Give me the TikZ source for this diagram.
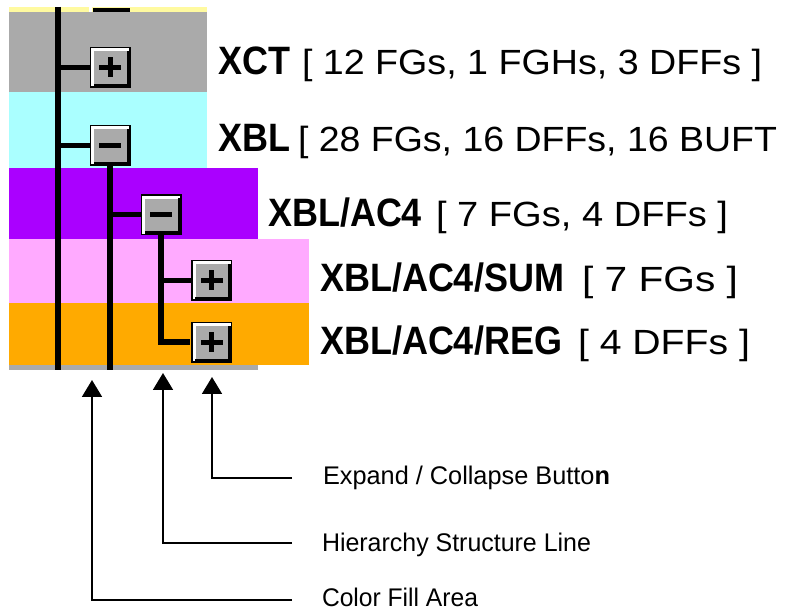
\documentclass[tikz,border=0pt]{standalone}
\usepackage{fontspec}
\setmainfont{Liberation Sans}
\usetikzlibrary{arrows.meta}

\definecolor{bandyellow}{RGB}{255,250,160}
\definecolor{bandgray}{RGB}{170,170,170}
\definecolor{bandcyan}{RGB}{170,255,255}
\definecolor{bandpurple}{RGB}{170,0,255}
\definecolor{bandpink}{RGB}{255,170,255}
\definecolor{bandorange}{RGB}{255,170,0}
\definecolor{btngray}{RGB}{170,170,170}

% name font (bold, slightly tall) and statistics font
\newcommand\modname[1]{{\fontsize{36}{40}\selectfont\bfseries\scalebox{1}[1.1]{#1}}}
\newcommand\modstats[2]{{\fontsize{35}{40}\selectfont\resizebox{#1}{\height}{#2}}}
\newcommand\legendtext[2]{{\fontsize{25.5}{30}\selectfont\resizebox{#1}{\height}{#2}}}

% a raised expand/collapse button; #4 = 1 draws a plus, 0 a minus
\newcommand\treebutton[4]{%
  \node[btnbox] (#1) at (#2,#3) {};
  \fill[white] ([shift={(1.5pt,-1.5pt)}]#1.north west) rectangle ([shift={(4.5pt,1.5pt)}]#1.south west);
  \fill[white] ([shift={(1.5pt,-1.5pt)}]#1.north west) rectangle ([shift={(-1.5pt,-4.5pt)}]#1.north east);
  \fill[black] ([shift={(-4pt,-4pt)}]#1.north east) rectangle ([shift={(-1.5pt,1.5pt)}]#1.south east);
  \fill[black] ([shift={(4pt,4pt)}]#1.south west) rectangle ([shift={(-1.5pt,1.5pt)}]#1.south east);
  \draw[black,line width=1.5pt] ([shift={(.75pt,-.75pt)}]#1.north west) rectangle ([shift={(-.75pt,.75pt)}]#1.south east);
  \fill[black] ([shift={(-11pt,-2.5pt)}]#1.center) rectangle ([shift={(11pt,2.5pt)}]#1.center);
  \ifnum#4=1
    \fill[black] ([shift={(-2.5pt,-10pt)}]#1.center) rectangle ([shift={(2.5pt,10pt)}]#1.center);
  \fi
}

\begin{document}
\begin{tikzpicture}[x=1pt,y=-1pt,
  btnbox/.style={fill=btngray,draw=none,minimum width=41pt,minimum height=41pt,inner sep=0pt,outer sep=0pt},
  treeline/.style={line width=6pt,black,line cap=butt},
  treetick/.style={line width=5pt,black},
  txt/.style={inner sep=0pt,outer sep=0pt,anchor=base west},
  pointer/.style={line width=1.8pt,black,-{Triangle[width=20pt,length=17pt]}}]

\useasboundingbox (0,0) rectangle (785,612);

% colour fill areas of the hierarchy rows
\fill[bandyellow] (9,7) rectangle (207,12);
\fill[bandgray]   (9,12) rectangle (207,92);
\fill[bandcyan]   (9,92) rectangle (207,168);
\fill[bandpurple] (9,168) rectangle (258,239);
\fill[bandpink]   (9,239) rectangle (309,303);
\fill[bandorange] (9,303) rectangle (309,365);
\fill[bandgray]   (9,365) rectangle (258,370);

% bottom edge of the button of the row above
\fill[white] (89,7) rectangle (92,12);
\fill[black] (93,8.5) rectangle (130,12);

% buttons
\treebutton{btnXCT}{110}{67.5}{1}
\treebutton{btnXBL}{110}{145.5}{0}
\treebutton{btnAC}{161}{215}{0}
\treebutton{btnSUM}{211.5}{280.5}{1}
\treebutton{btnREG}{211.5}{342.5}{1}

% hierarchy structure lines
\coordinate (rootTop) at (58,7);
\coordinate (rootEnd) at (58,370);
\coordinate (xblEnd) at (110,370);
\draw[treeline] (rootTop) -- (rootEnd);
\draw[treeline] (btnXBL.south) -- (xblEnd);
\draw[treeline,line join=miter] (btnAC.south) |- ([xshift=-1pt]btnREG.west);
\draw[treetick] (btnXCT.west -| rootTop) -- (btnXCT.west);
\draw[treetick] (btnXBL.west -| rootTop) -- (btnXBL.west);
\draw[treetick] (btnAC.west -| xblEnd) -- (btnAC.west);
\draw[treetick] (btnSUM.west -| btnAC.south) -- (btnSUM.west);

% module names and statistics
\node[txt] (nXCT) at (218,75)  {\modname{XCT}};
\node[txt] (sXCT) at (302,75)  {\modstats{460pt}{[ 12 FGs, 1 FGHs, 3 DFFs ]}};
\node[txt] (nXBL) at (218,152) {\modname{XBL}};
\node[txt] (sXBL) at (298,152) {\modstats{479pt}{[ 28 FGs, 16 DFFs, 16 BUFT}};
\node[txt] (nAC)  at (268,227) {\modname{XBL/AC4}};
\node[txt] (sAC)  at (436,227) {\modstats{292pt}{[ 7 FGs, 4 DFFs ]}};
\node[txt] (nSUM) at (320,292) {\modname{XBL/AC4/SUM}};
\node[txt] (sSUM) at (582,292) {\modstats{156pt}{[ 7 FGs ]}};
\node[txt] (nREG) at (320,355) {\modname{XBL/AC4/REG}};
\node[txt] (sREG) at (578,355) {\modstats{172pt}{[ 4 DFFs ]}};

% legend
\node[txt] (lblButton) at (323,484) {\legendtext{287pt}{Expand / Collapse Butto\textbf{n}}};
\node[txt] (lblLine)   at (322,551) {\legendtext{269pt}{Hierarchy Structure Line}};
\node[txt] (lblFill)   at (322,606) {\legendtext{156pt}{Color Fill Area}};

\coordinate (tipButton) at (212,377);
\coordinate (tipLine)   at (163,373);
\coordinate (tipFill)   at (92,380);
\coordinate (endButton) at (292,478);
\coordinate (endLine)   at (292,543);
\coordinate (endFill)   at (292,600);
\draw[pointer] (endButton) -| (tipButton);
\draw[pointer] (endLine) -| (tipLine);
\draw[pointer] (endFill) -| (tipFill);
\end{tikzpicture}
\end{document}
